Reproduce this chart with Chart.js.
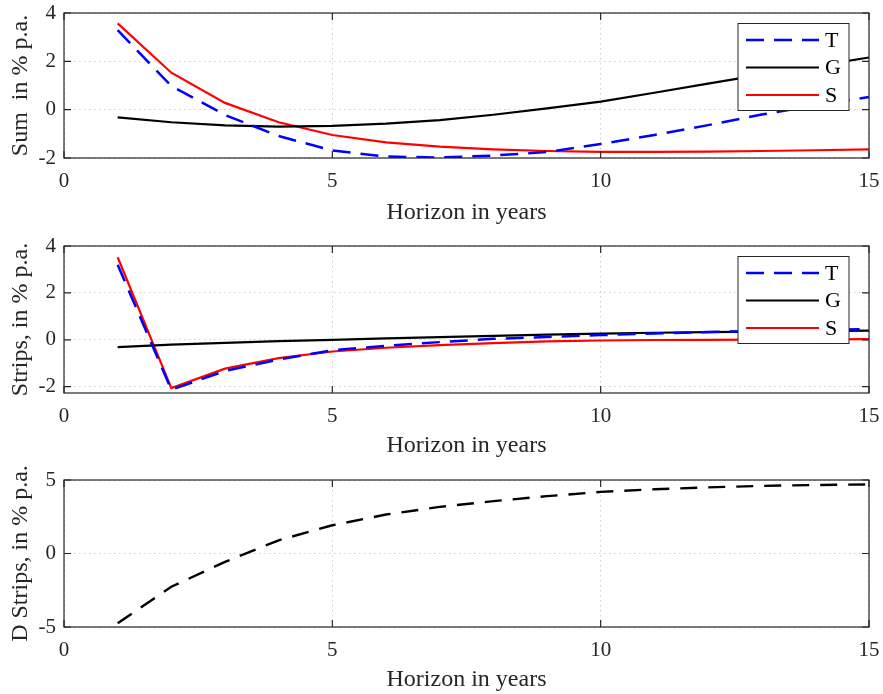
<!DOCTYPE html>
<html>
<head>
<meta charset="utf-8">
<script src="https://cdn.jsdelivr.net/npm/chart.js@4"></script>
<style>
  body { margin: 0; background: #fff; }
  #wrap { position: relative; width: 883px; height: 694px; }
  canvas { position: absolute; left: 0; }
</style>
</head>
<body>
<div id="wrap">
  <canvas id="sumChart" width="883" height="230" style="top:0px"></canvas>
  <canvas id="stripChart" width="883" height="232" style="top:230px"></canvas>
  <canvas id="dChart" width="883" height="232" style="top:462px"></canvas>
</div>
<script>
// horizon in years
const horizon = [1, 2, 3, 4, 5, 6, 7, 8, 9, 10, 11, 12, 13, 14, 15];
const xTicks = [0, 5, 10, 15];

// top panel: sum
const sumT = [3.29, 0.98, -0.22, -1.09, -1.69, -1.94, -1.98, -1.90, -1.75, -1.42, -1.05, -0.64, -0.20, 0.17, 0.52];
const sumG = [-0.32, -0.52, -0.65, -0.70, -0.67, -0.58, -0.43, -0.21, 0.05, 0.33, 0.70, 1.08, 1.45, 1.80, 2.16];
const sumS = [3.57, 1.53, 0.28, -0.52, -1.05, -1.35, -1.53, -1.64, -1.71, -1.75, -1.75, -1.74, -1.71, -1.68, -1.64];
const sumTicks = [-2, 0, 2, 4];

// middle panel: strips
const stripT = [3.20, -2.13, -1.33, -0.84, -0.45, -0.26, -0.10, 0.04, 0.12, 0.20, 0.27, 0.33, 0.38, 0.42, 0.46];
const stripG = [-0.31, -0.21, -0.13, -0.06, 0.00, 0.06, 0.11, 0.17, 0.22, 0.26, 0.30, 0.33, 0.35, 0.37, 0.39];
const stripS = [3.52, -2.06, -1.23, -0.78, -0.50, -0.34, -0.23, -0.14, -0.07, -0.03, -0.01, 0.00, 0.01, 0.02, 0.03];
const stripTicks = [-2, 0, 2, 4];

// bottom panel: D strips
const dStrips = [-4.75, -2.26, -0.57, 0.90, 1.92, 2.65, 3.17, 3.56, 3.90, 4.19, 4.37, 4.50, 4.60, 4.66, 4.70];
const dTicks = [-5, 0, 5];

const textColor = '#262626';
Chart.defaults.font.family = "'Liberation Serif', 'Times New Roman', serif";
Chart.defaults.color = textColor;

function points(ys) {
    return horizon.map((x, i) => ({ x: x, y: ys[i] }));
}

function line(label, ys, color, dash, width) {
    return {
        label: label,
        data: points(ys),
        borderColor: color,
        backgroundColor: color,
        borderWidth: width,
        borderDash: dash,
        pointRadius: 0,
        tension: 0,
        fill: false
    };
}

// no extra room for edge labels, the layout padding sets the plot box
function noEdgePadding(s) {
    s.paddingTop = 0;
    s.paddingBottom = 0;
    s.paddingLeft = 0;
    s.paddingRight = 0;
}

// box, inward ticks and the legend, drawn over the lines like in matlab
const framePlugin = {
    id: 'frame',
    afterDatasetsDraw(chart, args, opts) {
        const ctx = chart.ctx;
        const a = chart.chartArea;
        const x = chart.scales.x;
        const y = chart.scales.y;
        ctx.save();
        ctx.strokeStyle = textColor;
        ctx.lineWidth = 1.2;
        ctx.setLineDash([]);
        ctx.strokeRect(a.left, a.top, a.right - a.left, a.bottom - a.top);
        ctx.beginPath();
        x.ticks.forEach(t => {
            const px = x.getPixelForValue(t.value);
            ctx.moveTo(px, a.bottom); ctx.lineTo(px, a.bottom - 7);
            ctx.moveTo(px, a.top); ctx.lineTo(px, a.top + 7);
        });
        y.ticks.forEach(t => {
            const py = y.getPixelForValue(t.value);
            ctx.moveTo(a.left, py); ctx.lineTo(a.left + 7, py);
            ctx.moveTo(a.right, py); ctx.lineTo(a.right - 7, py);
        });
        ctx.stroke();

        if (opts.legend) {
            const w = 111, h = 87;
            const bx = a.right - 20 - w;
            const by = a.top + 10.5;
            ctx.fillStyle = '#fff';
            ctx.fillRect(bx, by, w, h);
            ctx.strokeStyle = '#262626';
            ctx.lineWidth = 1;
            ctx.strokeRect(bx, by, w, h);
            ctx.font = "22px 'Liberation Serif'";
            ctx.textBaseline = 'middle';
            chart.data.datasets.forEach((ds, i) => {
                const ry = by + 16.5 + i * 27.5;
                ctx.strokeStyle = ds.borderColor;
                ctx.lineWidth = ds.borderWidth;
                ctx.setLineDash(ds.borderDash || []);
                ctx.beginPath();
                ctx.moveTo(bx + 8, ry);
                ctx.lineTo(bx + 81, ry);
                ctx.stroke();
                ctx.setLineDash([]);
                ctx.fillStyle = '#000';
                ctx.fillText(ds.label, bx + 87, ry + 1);
            });
        }
        ctx.restore();
    }
};

function makeChart(id, datasets, cfg) {
    return new Chart(document.getElementById(id), {
        type: 'line',
        data: { datasets: datasets },
        plugins: [framePlugin],
        options: {
            responsive: false,
            animation: false,
            layout: { padding: { top: cfg.padTop, right: 14, left: 0, bottom: 0 } },
            plugins: {
                legend: { display: false },
                tooltip: { enabled: false },
                frame: { legend: cfg.legend }
            },
            scales: {
                x: {
                    type: 'linear',
                    min: 0,
                    max: 15,
                    afterBuildTicks: s => { s.ticks = xTicks.map(v => ({ value: v })); },
                    afterFit: s => { s.height = cfg.xHeight; noEdgePadding(s); },
                    border: { display: false, dash: [1.5, 3.5] },
                    grid: { color: '#cfcfcf', lineWidth: 1, drawTicks: false },
                    ticks: { font: { size: 21 }, padding: 11, color: textColor },
                    title: {
                        display: true,
                        text: 'Horizon in years',
                        font: { size: 24 },
                        color: textColor,
                        padding: { top: 0, bottom: cfg.titlePad }
                    }
                },
                y: {
                    type: 'linear',
                    min: cfg.yMin,
                    max: cfg.yMax,
                    afterBuildTicks: s => { s.ticks = cfg.yTicks.map(v => ({ value: v })); },
                    afterFit: s => { s.width = 64; noEdgePadding(s); },
                    border: { display: false, dash: [1.5, 3.5] },
                    grid: { color: '#cfcfcf', lineWidth: 1, drawTicks: false },
                    ticks: { font: { size: 21 }, padding: 8, color: textColor },
                    title: {
                        display: true,
                        text: cfg.yTitle,
                        font: { size: 24 },
                        color: textColor,
                        padding: { top: 6, bottom: 0 }
                    }
                }
            }
        }
    });
}

makeChart('sumChart', [
    line('T', sumT, '#0000ff', [18, 10], 2.5),
    line('G', sumG, '#000000', [], 2.2),
    line('S', sumS, '#ff0000', [], 2.2)
], { padTop: 13, xHeight: 72, titlePad: 3, yMin: -2, yMax: 4, yTicks: sumTicks, yTitle: 'Sum  in % p.a.', legend: true });

makeChart('stripChart', [
    line('T', stripT, '#0000ff', [18, 10], 2.5),
    line('G', stripG, '#000000', [], 2.2),
    line('S', stripS, '#ff0000', [], 2.2)
], { padTop: 16, xHeight: 69, titlePad: 2, yMin: -2.27, yMax: 4, yTicks: stripTicks, yTitle: 'Strips, in % p.a.', legend: true });

makeChart('dChart', [
    line('D', dStrips, '#000000', [17, 11], 2.4)
], { padTop: 18, xHeight: 67, titlePad: 0, yMin: -5, yMax: 5, yTicks: dTicks, yTitle: 'D Strips, in % p.a.', legend: false });
</script>
</body>
</html>
